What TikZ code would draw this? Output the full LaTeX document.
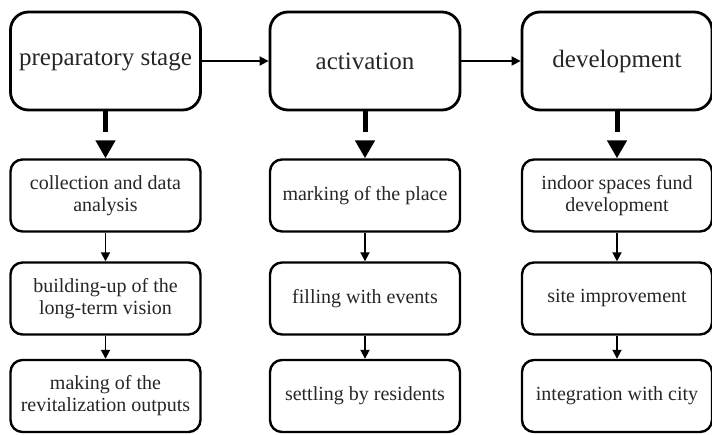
\documentclass[tikz,border=0pt]{standalone}
\usepackage{fontspec}
\setmainfont{Liberation Serif}
\usetikzlibrary{arrows.meta}
\begin{document}
\begin{tikzpicture}[
    x=0.5pt, y=-0.5pt,
    stage/.style={draw, line width=1.4pt, rounded corners=9pt,
      minimum width=95pt, minimum height=49pt, inner sep=0pt,
      font=\fontsize{12.5}{15}\selectfont, text=black!85},
    task/.style={draw, line width=1.2pt, rounded corners=6pt,
      minimum width=95pt, minimum height=36pt, inner sep=0pt, align=center,
      font=\fontsize{10}{11}\selectfont, text=black!85},
    flow/.style={-{Triangle[length=4.5pt,width=4.5pt]}, line width=0.9pt},
    stem/.style={line width=2.5pt, shorten >=13pt},
    bighead/.style={-{Triangle[length=9pt,width=9.5pt]}, line width=2.5pt,
      shorten <=15pt},
  line join=round]

  \useasboundingbox (0,0) rectangle (712,434);

  % stages
  \node [stage] (prep) at (105.5,61) {preparatory stage};
  \node [stage] (act)  at (365,61)   {activation};
  \node [stage] (dev)  at (617,61)   {development};

  % preparatory stage -- tasks
  \node [task] (coll)    at (105.5,195.5) {collection and data\\analysis};
  \node [task] (vision)  at (105.5,298.5) {building-up of the\\long-term vision};
  \node [task] (outputs) at (105.5,396)   {making of the\\revitalization outputs};

  % activation -- tasks
  \node [task] (mark)   at (365,195.5) {marking of the place};
  \node [task] (events) at (365,298.5) {filling with events};
  \node [task] (settle) at (365,396)   {settling by residents};

  % development -- tasks
  \node [task] (fund)    at (617,195.5) {indoor spaces fund\\development};
  \node [task] (improve) at (617,298.5) {site improvement};
  \node [task] (city)    at (617,396)   {integration with city};

  % stage to stage
  \draw [flow] (prep) -- (act);
  \draw [flow] (act) -- (dev);

  % stage to first task (stem, then detached head)
  \foreach \s/\t in {prep/coll, act/mark, dev/fund}{
    \draw [stem] (\s) -- (\t);
    \draw [bighead] (\s) -- (\t);
  }

  % task to task
  \foreach \s/\t in {coll/vision, vision/outputs, mark/events,
                     events/settle, fund/improve, improve/city}
    \draw [flow] (\s) -- (\t);
\end{tikzpicture}
\end{document}
